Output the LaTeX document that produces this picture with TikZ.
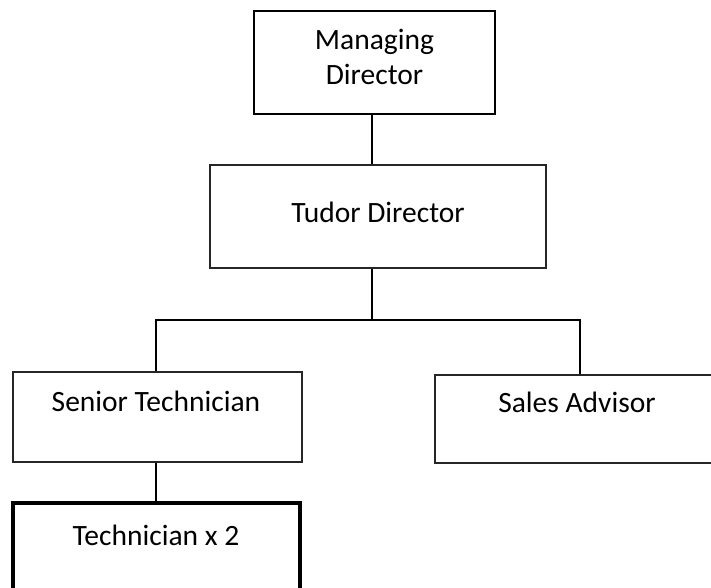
\documentclass[tikz,border=0pt]{standalone}
\usepackage{fontspec}
\setmainfont{Carlito}
\begin{document}
\begin{tikzpicture}[x=1pt,y=1pt,
  box/.style={draw=black!85, line width=1.2pt, fill=white, inner sep=0pt, rectangle},
  lbl/.style={font=\fontsize{29.5}{35}\selectfont, inner sep=0pt, anchor=base, align=center},
  conn/.style={draw=black, line width=1.6pt}]
\useasboundingbox (0,0) rectangle (711,587);
\clip (0,0) rectangle (711,587);
% boxes
\node[box, draw=black, line width=2pt, minimum width=241pt, minimum height=103pt] (md) at (374.5,524.5) {};
\node[box, minimum width=336pt, minimum height=103pt] (td) at (378,370.5) {};
\node[box, minimum width=289pt, minimum height=90pt] (st) at (157.5,170) {};
\node[box, minimum width=285pt, minimum height=88pt] (sa) at (577.5,168) {};
\node[box, draw=black, line width=4.5pt, minimum width=287pt, minimum height=107pt] (tech) at (156.5,30.5) {};
% labels
\node[lbl] (mdl) at (374.5,502) {Managing\\Director};
\node[lbl] (tdl) at (378,364) {Tudor Director};
\node[lbl] (stl) at (156,176) {Senior Technician};
\node[lbl] (sal) at (577,175) {Sales Advisor};
\node[lbl] (techl) at (156,42) {Technician x 2};
% bus coordinates
\coordinate (busM) at (372,267);
\coordinate (busL) at (156,267);
\coordinate (busR) at (580,267);
% connectors
\draw[conn] (md.south -| busM) -- (td.north -| busM);
\draw[conn] (td.south -| busM) -- (busM);
\draw[conn] (st.north -| busL) -- (busL) -- (busR) -- (sa.north -| busR);
\draw[conn] (st.south -| busL) -- (tech.north -| busL);
\end{tikzpicture}
\end{document}
